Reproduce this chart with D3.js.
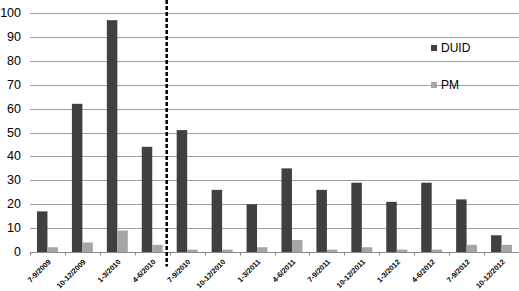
<!DOCTYPE html>
<html>
<head>
<meta charset="utf-8">
<script src="https://cdn.jsdelivr.net/npm/d3@7"></script>
<style>
  body { margin: 0; background: #fff; }
  svg { display: block; font-family: "Liberation Sans", Arial, sans-serif; }
</style>
</head>
<body>
<div id="chart"></div>
<script>
var categories = ['7-9/2009', '10-12/2009', '1-3/2010', '4-6/2010', '7-9/2010', '10-12/2010',
  '1-3/2011', '4-6/2011', '7-9/2011', '10-12/2011', '1-3/2012', '4-6/2012', '7-9/2012', '10-12/2012']
var duid = [17, 62, 97, 44, 51, 26, 20, 35, 26, 29, 21, 29, 22, 7]
var pm = [2, 4, 9, 3, 1, 1, 2, 5, 1, 2, 1, 1, 3, 3]
var seriesNames = ['DUID', 'PM']
var colors = ['#404040', '#a6a6a6']
var yTicks = [0, 10, 20, 30, 40, 50, 60, 70, 80, 90, 100]
// the dashed divider sits before this category
var splitBefore = '7-9/2010'

var width = 519, height = 291
var margin = { top: 13, right: 0, bottom: 39, left: 30 }

var svg = d3.select('#chart').append('svg')
  .attr('width', width)
  .attr('height', height)

var x = d3.scaleBand()
  .domain(categories)
  .range([margin.left, width - margin.right])
  .paddingInner(0.4)
  .paddingOuter(0.2)

var xSub = d3.scaleBand()
  .domain(seriesNames)
  .range([0, x.bandwidth()])

var y = d3.scaleLinear()
  .domain([0, 100])
  .range([height - margin.bottom, margin.top])

// gridlines
svg.append('g')
  .selectAll('line')
  .data(yTicks.slice(1))
  .enter().append('line')
  .attr('x1', margin.left)
  .attr('x2', width)
  .attr('y1', function(d) { return Math.round(y(d)) + 0.5 })
  .attr('y2', function(d) { return Math.round(y(d)) + 0.5 })
  .attr('stroke', '#a0a0a0')
  .attr('stroke-width', 1)

// y labels
svg.append('g')
  .selectAll('text')
  .data(yTicks)
  .enter().append('text')
  .attr('x', 21)
  .attr('y', function(d) { return Math.round(y(d)) })
  .attr('dy', '0.35em')
  .attr('text-anchor', 'end')
  .attr('font-size', '12.5px')
  .attr('fill', '#000')
  .text(function(d) { return d })

// bars
var data = categories.map(function(c, i) {
  return { cat: c, values: [{ key: 'DUID', value: duid[i] }, { key: 'PM', value: pm[i] }] }
})

var groups = svg.append('g')
  .selectAll('g')
  .data(data)
  .enter().append('g')
  .attr('transform', function(d) { return 'translate(' + x(d.cat) + ',0)' })

groups.selectAll('rect')
  .data(function(d) { return d.values })
  .enter().append('rect')
  .attr('x', function(d) { return xSub(d.key) })
  .attr('width', xSub.bandwidth())
  .attr('y', function(d) { return y(d.value) })
  .attr('height', function(d) { return y(0) - y(d.value) })
  .attr('fill', function(d, i) { return colors[i] })

// x axis line and ticks
var y0 = Math.round(y(0)) + 0.5
svg.append('line')
  .attr('x1', margin.left).attr('x2', width)
  .attr('y1', y0).attr('y2', y0)
  .attr('stroke', '#888')

var boundaries = categories.map(function(c) { return x(c) - x.paddingOuter() * x.step() })
boundaries.push(width - 0.5)
svg.append('g')
  .selectAll('line')
  .data(boundaries)
  .enter().append('line')
  .attr('x1', function(d) { return Math.round(d) + 0.5 })
  .attr('x2', function(d) { return Math.round(d) + 0.5 })
  .attr('y1', y0)
  .attr('y2', y0 + 3)
  .attr('stroke', '#888')

// x labels
svg.append('g')
  .selectAll('text')
  .data(categories)
  .enter().append('text')
  .attr('transform', function(d) {
    return 'translate(' + (x(d) + x.bandwidth() / 2 + 2) + ',' + (y0 + 8) + ') rotate(-45)'
  })
  .attr('text-anchor', 'end')
  .attr('dy', '0.35em')
  .attr('font-size', '7.4px')
  .attr('font-weight', 'bold')
  .attr('fill', '#000')
  .text(function(d) { return d })

// dashed divider
var splitX = x(splitBefore) - x.paddingOuter() * x.step() - 3
svg.append('line')
  .attr('x1', splitX).attr('x2', splitX)
  .attr('y1', 0).attr('y2', y0 + 14)
  .attr('stroke', '#000')
  .attr('stroke-width', 2.5)
  .attr('stroke-dasharray', '4,2')

// legend
var legend = svg.append('g')
  .selectAll('g')
  .data(seriesNames)
  .enter().append('g')
  .attr('transform', function(d, i) { return 'translate(431,' + (48 + i * 37) + ')' })

legend.append('rect')
  .attr('x', 0).attr('y', -3)
  .attr('width', 6).attr('height', 6)
  .attr('fill', function(d, i) { return colors[i] })

legend.append('text')
  .attr('x', 10)
  .attr('dy', '0.35em')
  .attr('font-size', '12px')
  .attr('fill', '#000')
  .text(function(d) { return d })
</script>
</body>
</html>
